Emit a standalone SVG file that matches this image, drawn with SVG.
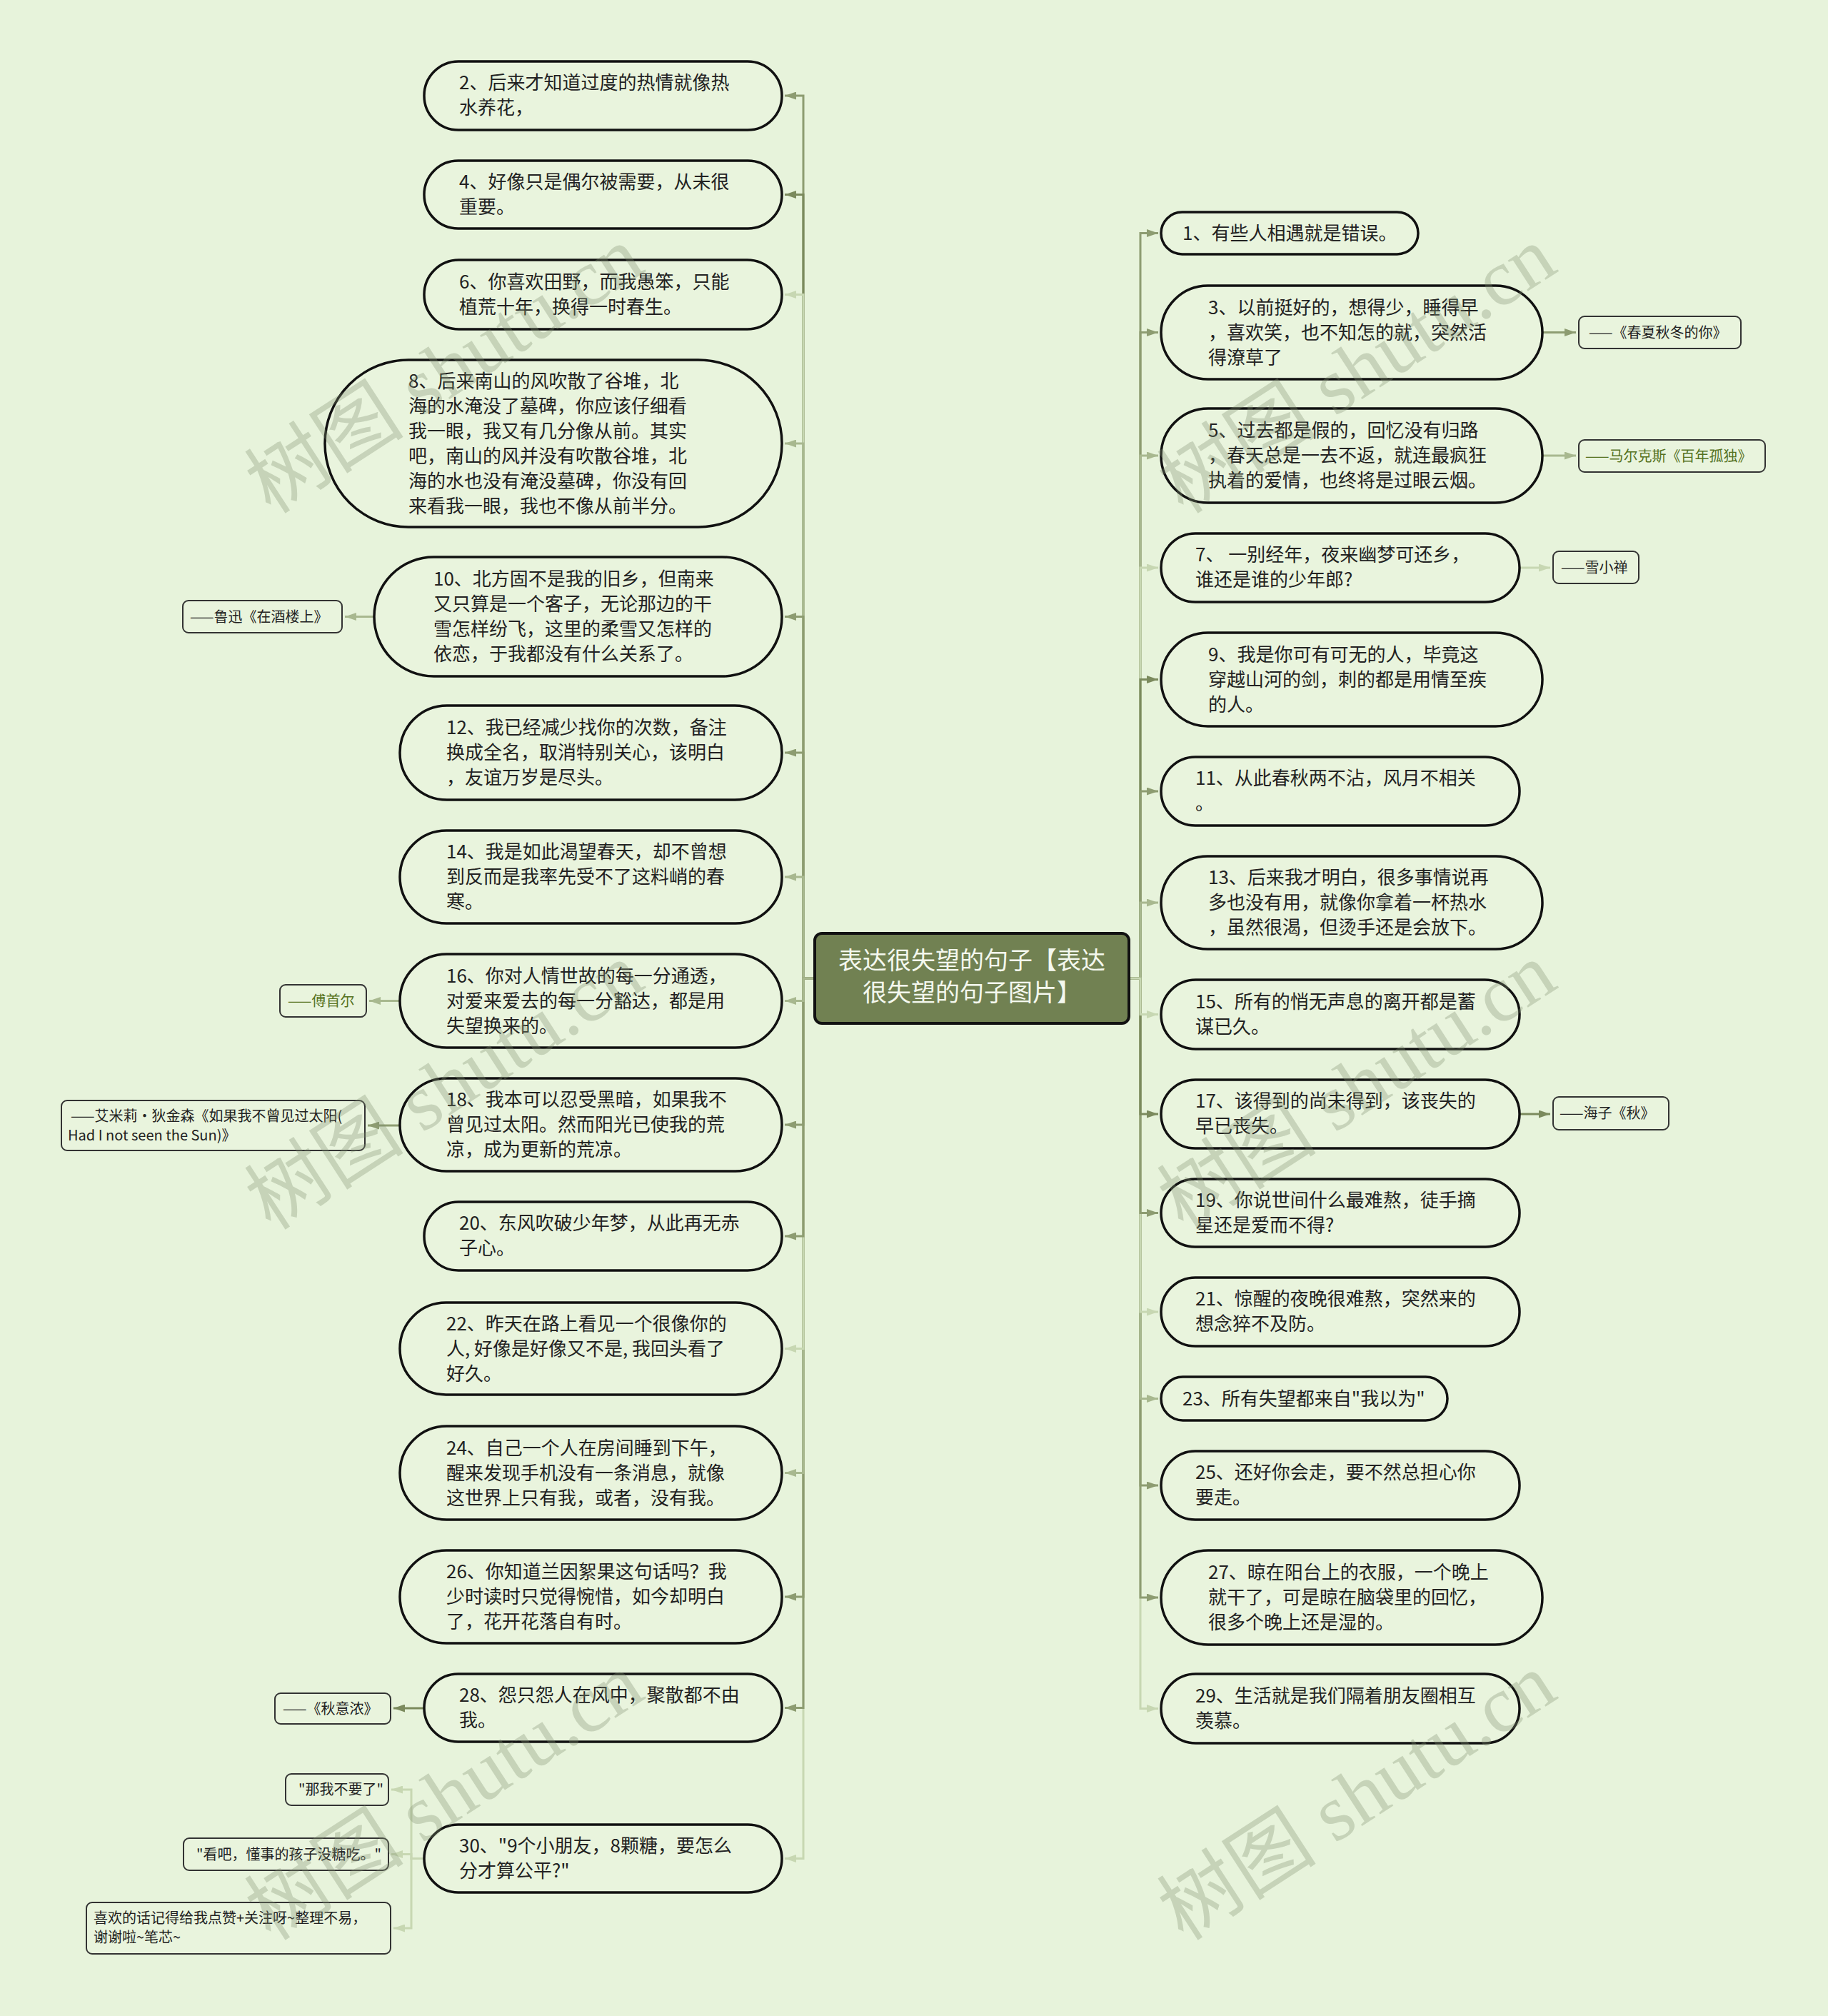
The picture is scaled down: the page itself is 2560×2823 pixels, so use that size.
<svg xmlns="http://www.w3.org/2000/svg" width="2560" height="2823" viewBox="0 0 2560 2823">
<style>
.bg{fill:#e7f3db}
.node{fill:#e9f4dd;stroke:#111;stroke-width:3.5}
.ann{fill:#e9f4dd;stroke:#333;stroke-width:2}
.root{fill:#718152;stroke:#111;stroke-width:4}
.t{font-family:"Noto Sans CJK SC","Noto Sans",sans-serif;font-size:26px;fill:#222}
.a{font-family:"Noto Sans CJK SC","Noto Sans",sans-serif;font-size:20px;fill:#222}
.ag{fill:#55721f}
.rt{font-family:"Noto Sans CJK SC","Noto Sans",sans-serif;font-size:34px;fill:#f4f8ee;text-anchor:middle}
.e{fill:none;stroke-width:3}
.dk{stroke:#7b8a5d}.md{stroke:#8d9c71}.lm{stroke:#a8b88f}.lt{stroke:#c7d7b2}
.wm{font-family:"Liberation Serif","Noto Sans CJK SC",serif;font-size:112px;fill:#7f8f70;fill-opacity:0.32}
</style>
<defs>
<marker id="adk" viewBox="0 0 16 11" refX="16" refY="5.5" markerWidth="16" markerHeight="11" markerUnits="userSpaceOnUse" orient="auto"><path d="M0,0 L16,5.5 L0,11 z" fill="#7b8a5d"/></marker>
<marker id="amd" viewBox="0 0 16 11" refX="16" refY="5.5" markerWidth="16" markerHeight="11" markerUnits="userSpaceOnUse" orient="auto"><path d="M0,0 L16,5.5 L0,11 z" fill="#8d9c71"/></marker>
<marker id="alm" viewBox="0 0 16 11" refX="16" refY="5.5" markerWidth="16" markerHeight="11" markerUnits="userSpaceOnUse" orient="auto"><path d="M0,0 L16,5.5 L0,11 z" fill="#a8b88f"/></marker>
<marker id="alt" viewBox="0 0 16 11" refX="16" refY="5.5" markerWidth="16" markerHeight="11" markerUnits="userSpaceOnUse" orient="auto"><path d="M0,0 L16,5.5 L0,11 z" fill="#c7d7b2"/></marker>
</defs>
<rect class="bg" x="0" y="0" width="2560" height="2823"/>

<g id="connectors">
<!-- left, above root -->
<path class="e md" marker-end="url(#amd)" d="M1141,1370 H1125 V134 H1099"/>
<path class="e dk" marker-end="url(#adk)" d="M1141,1370 H1125 V272.5 H1099"/>
<path class="e lt" marker-end="url(#alt)" d="M1141,1370 H1125 V412.5 H1099"/>
<path class="e lm" marker-end="url(#alm)" d="M1141,1370 H1125 V621 H1099"/>
<path class="e md" marker-end="url(#amd)" d="M1141,1370 H1125 V863.5 H1099"/>
<path class="e md" marker-end="url(#amd)" d="M1141,1370 H1125 V1054 H1099"/>
<path class="e lm" marker-end="url(#alm)" d="M1141,1370 H1125 V1228 H1099"/>
<!-- left, below root -->
<path class="e lt" marker-end="url(#alt)" d="M1141,1370 H1125 V2602.5 H1099"/>
<path class="e md" marker-end="url(#amd)" d="M1141,1370 H1125 V2391.5 H1099"/>
<path class="e md" marker-end="url(#amd)" d="M1141,1370 H1125 V2236 H1099"/>
<path class="e lm" marker-end="url(#alm)" d="M1141,1370 H1125 V2062.5 H1099"/>
<path class="e lt" marker-end="url(#alt)" d="M1141,1370 H1125 V1888.5 H1099"/>
<path class="e md" marker-end="url(#amd)" d="M1141,1370 H1125 V1731 H1099"/>
<path class="e md" marker-end="url(#amd)" d="M1141,1370 H1125 V1575 H1099"/>
<path class="e lm" marker-end="url(#alm)" d="M1141,1370 H1125 V1401.5 H1099"/>
<!-- right, above root -->
<path class="e md" marker-end="url(#amd)" d="M1581,1370 H1597 V326.5 H1622"/>
<path class="e md" marker-end="url(#amd)" d="M1581,1370 H1597 V465.5 H1622"/>
<path class="e lm" marker-end="url(#alm)" d="M1581,1370 H1597 V638 H1622"/>
<path class="e lt" marker-end="url(#alt)" d="M1581,1370 H1597 V795 H1622"/>
<path class="e dk" marker-end="url(#adk)" d="M1581,1370 H1597 V951.5 H1622"/>
<path class="e md" marker-end="url(#amd)" d="M1581,1370 H1597 V1108 H1622"/>
<path class="e lm" marker-end="url(#alm)" d="M1581,1370 H1597 V1264 H1622"/>
<!-- right, below root -->
<path class="e lt" marker-end="url(#alt)" d="M1581,1370 H1597 V2392.5 H1622"/>
<path class="e md" marker-end="url(#amd)" d="M1581,1370 H1597 V2237 H1622"/>
<path class="e md" marker-end="url(#amd)" d="M1581,1370 H1597 V2080 H1622"/>
<path class="e lm" marker-end="url(#alm)" d="M1581,1370 H1597 V1958.5 H1622"/>
<path class="e lt" marker-end="url(#alt)" d="M1581,1370 H1597 V1837 H1622"/>
<path class="e md" marker-end="url(#amd)" d="M1581,1370 H1597 V1698.5 H1622"/>
<path class="e dk" marker-end="url(#adk)" d="M1581,1370 H1597 V1560 H1622"/>
<path class="e lt" marker-end="url(#alt)" d="M1581,1370 H1597 V1420.5 H1622"/>
<!-- annotations -->
<path class="e lm" marker-end="url(#alm)" d="M524,863.5 H483"/>
<path class="e lm" marker-end="url(#alm)" d="M560,1401.5 H517"/>
<path class="e md" marker-end="url(#amd)" d="M560,1576 H515"/>
<path class="e dk" marker-end="url(#adk)" d="M594,2392 H551"/>
<path class="e lt" marker-end="url(#alt)" d="M594,2602.5 H576 V2506 H548"/>
<path class="e lt" marker-end="url(#alt)" d="M594,2602.5 H576 V2596.5 H548"/>
<path class="e lt" marker-end="url(#alt)" d="M594,2602.5 H576 V2700 H551"/>
<path class="e md" marker-end="url(#amd)" d="M2160,465.5 H2207"/>
<path class="e lm" marker-end="url(#alm)" d="M2160,638 H2207"/>
<path class="e lt" marker-end="url(#alt)" d="M2128,795 H2171"/>
<path class="e dk" marker-end="url(#adk)" d="M2128,1560 H2171"/>
</g>

<g id="root">
<rect class="root" x="1141" y="1307" width="440" height="126" rx="10"/>
<text class="rt" x="1361" y="1357">表达很失望的句子【表达</text>
<text class="rt" x="1361" y="1402">很失望的句子图片】</text>
</g>

<!-- left nodes -->
<g id="n2"><rect class="node" x="594" y="86" width="501" height="96" rx="48"/>
<text class="t" x="643"><tspan x="643" y="125">2、后来才知道过度的热情就像热</tspan><tspan x="643" y="160">水养花，</tspan></text></g>
<g id="n4"><rect class="node" x="594" y="225" width="501" height="95" rx="47.5"/>
<text class="t"><tspan x="643" y="264">4、好像只是偶尔被需要，从未很</tspan><tspan x="643" y="299">重要。</tspan></text></g>
<g id="n6"><rect class="node" x="594" y="364" width="501" height="97" rx="48.5"/>
<text class="t"><tspan x="643" y="404">6、你喜欢田野，而我愚笨，只能</tspan><tspan x="643" y="439">植荒十年，换得一时春生。</tspan></text></g>
<g id="n8"><rect class="node" x="455" y="504" width="640" height="234" rx="117"/>
<text class="t"><tspan x="572" y="543">8、后来南山的风吹散了谷堆，北</tspan><tspan x="572" y="578">海的水淹没了墓碑，你应该仔细看</tspan><tspan x="572" y="613">我一眼，我又有几分像从前。其实</tspan><tspan x="572" y="648">吧，南山的风并没有吹散谷堆，北</tspan><tspan x="572" y="683">海的水也没有淹没墓碑，你没有回</tspan><tspan x="572" y="718">来看我一眼，我也不像从前半分。</tspan></text></g>
<g id="n10"><rect class="node" x="524" y="780" width="571" height="167" rx="83.5"/>
<text class="t"><tspan x="607" y="820">10、北方固不是我的旧乡，但南来</tspan><tspan x="607" y="855">又只算是一个客子，无论那边的干</tspan><tspan x="607" y="890">雪怎样纷飞，这里的柔雪又怎样的</tspan><tspan x="607" y="925">依恋，于我都没有什么关系了。</tspan></text></g>
<g id="n12"><rect class="node" x="560" y="988" width="535" height="132" rx="66"/>
<text class="t"><tspan x="625" y="1028">12、我已经减少找你的次数，备注</tspan><tspan x="625" y="1063">换成全名，取消特别关心，该明白</tspan><tspan x="625" y="1098">，友谊万岁是尽头。</tspan></text></g>
<g id="n14"><rect class="node" x="560" y="1163" width="535" height="130" rx="65"/>
<text class="t"><tspan x="625" y="1202">14、我是如此渴望春天，却不曾想</tspan><tspan x="625" y="1237">到反而是我率先受不了这料峭的春</tspan><tspan x="625" y="1272">寒。</tspan></text></g>
<g id="n16"><rect class="node" x="560" y="1336" width="535" height="131" rx="65.5"/>
<text class="t"><tspan x="625" y="1376">16、你对人情世故的每一分通透，</tspan><tspan x="625" y="1411">对爱来爱去的每一分豁达，都是用</tspan><tspan x="625" y="1446">失望换来的。</tspan></text></g>
<g id="n18"><rect class="node" x="560" y="1510" width="535" height="130" rx="65"/>
<text class="t"><tspan x="625" y="1549">18、我本可以忍受黑暗，如果我不</tspan><tspan x="625" y="1584">曾见过太阳。然而阳光已使我的荒</tspan><tspan x="625" y="1619">凉，成为更新的荒凉。</tspan></text></g>
<g id="n20"><rect class="node" x="594" y="1683" width="501" height="96" rx="48"/>
<text class="t"><tspan x="643" y="1722">20、东风吹破少年梦，从此再无赤</tspan><tspan x="643" y="1757">子心。</tspan></text></g>
<g id="n22"><rect class="node" x="560" y="1824" width="535" height="129" rx="64.5"/>
<text class="t"><tspan x="625" y="1863">22、昨天在路上看见一个很像你的</tspan><tspan x="625" y="1898">人, 好像是好像又不是, 我回头看了</tspan><tspan x="625" y="1933">好久。</tspan></text></g>
<g id="n24"><rect class="node" x="560" y="1997" width="535" height="131" rx="65.5"/>
<text class="t"><tspan x="625" y="2037">24、自己一个人在房间睡到下午，</tspan><tspan x="625" y="2072">醒来发现手机没有一条消息，就像</tspan><tspan x="625" y="2107">这世界上只有我，或者，没有我。</tspan></text></g>
<g id="n26"><rect class="node" x="560" y="2171" width="535" height="130" rx="65"/>
<text class="t"><tspan x="625" y="2210">26、你知道兰因絮果这句话吗？我</tspan><tspan x="625" y="2245">少时读时只觉得惋惜，如今却明白</tspan><tspan x="625" y="2280">了，花开花落自有时。</tspan></text></g>
<g id="n28"><rect class="node" x="594" y="2344" width="501" height="95" rx="47.5"/>
<text class="t"><tspan x="643" y="2383">28、怨只怨人在风中，聚散都不由</tspan><tspan x="643" y="2418">我。</tspan></text></g>
<g id="n30"><rect class="node" x="594" y="2555" width="501" height="95" rx="47.5"/>
<text class="t"><tspan x="643" y="2594">30、"9个小朋友，8颗糖，要怎么</tspan><tspan x="643" y="2629">分才算公平?"</tspan></text></g>

<!-- right nodes -->
<g id="r1"><rect class="node" x="1626" y="297" width="360" height="59" rx="29.5"/>
<text class="t" x="1656" y="336">1、有些人相遇就是错误。</text></g>
<g id="r3"><rect class="node" x="1626" y="400" width="534" height="131" rx="65.5"/>
<text class="t"><tspan x="1692" y="440">3、以前挺好的，想得少，睡得早</tspan><tspan x="1692" y="475">，喜欢笑，也不知怎的就，突然活</tspan><tspan x="1692" y="510">得潦草了</tspan></text></g>
<g id="r5"><rect class="node" x="1626" y="572" width="534" height="132" rx="66"/>
<text class="t"><tspan x="1692" y="612">5、过去都是假的，回忆没有归路</tspan><tspan x="1692" y="647">，春天总是一去不返，就连最疯狂</tspan><tspan x="1692" y="682">执着的爱情，也终将是过眼云烟。</tspan></text></g>
<g id="r7"><rect class="node" x="1626" y="747" width="502" height="96" rx="48"/>
<text class="t"><tspan x="1674" y="786">7、 一别经年，夜来幽梦可还乡，</tspan><tspan x="1674" y="821">谁还是谁的少年郎?</tspan></text></g>
<g id="r9"><rect class="node" x="1626" y="886" width="534" height="131" rx="65.5"/>
<text class="t"><tspan x="1692" y="926">9、我是你可有可无的人，毕竟这</tspan><tspan x="1692" y="961">穿越山河的剑，刺的都是用情至疾</tspan><tspan x="1692" y="996">的人。</tspan></text></g>
<g id="r11"><rect class="node" x="1626" y="1060" width="502" height="96" rx="48"/>
<text class="t"><tspan x="1674" y="1099">11、从此春秋两不沾，风月不相关</tspan><tspan x="1674" y="1134">。</tspan></text></g>
<g id="r13"><rect class="node" x="1626" y="1199" width="534" height="130" rx="65"/>
<text class="t"><tspan x="1692" y="1238">13、后来我才明白，很多事情说再</tspan><tspan x="1692" y="1273">多也没有用，就像你拿着一杯热水</tspan><tspan x="1692" y="1308">，虽然很渴，但烫手还是会放下。</tspan></text></g>
<g id="r15"><rect class="node" x="1626" y="1372" width="502" height="97" rx="48.5"/>
<text class="t"><tspan x="1674" y="1412">15、所有的悄无声息的离开都是蓄</tspan><tspan x="1674" y="1447">谋已久。</tspan></text></g>
<g id="r17"><rect class="node" x="1626" y="1512" width="502" height="96" rx="48"/>
<text class="t"><tspan x="1674" y="1551">17、该得到的尚未得到，该丧失的</tspan><tspan x="1674" y="1586">早已丧失。</tspan></text></g>
<g id="r19"><rect class="node" x="1626" y="1651" width="502" height="95" rx="47.5"/>
<text class="t"><tspan x="1674" y="1690">19、你说世间什么最难熬，徒手摘</tspan><tspan x="1674" y="1725">星还是爱而不得?</tspan></text></g>
<g id="r21"><rect class="node" x="1626" y="1789" width="502" height="96" rx="48"/>
<text class="t"><tspan x="1674" y="1828">21、惊醒的夜晚很难熬，突然来的</tspan><tspan x="1674" y="1863">想念猝不及防。</tspan></text></g>
<g id="r23"><rect class="node" x="1626" y="1928" width="401" height="61" rx="30.5"/>
<text class="t" x="1656" y="1968">23、所有失望都来自"我以为"</text></g>
<g id="r25"><rect class="node" x="1626" y="2032" width="502" height="96" rx="48"/>
<text class="t"><tspan x="1674" y="2071">25、还好你会走，要不然总担心你</tspan><tspan x="1674" y="2106">要走。</tspan></text></g>
<g id="r27"><rect class="node" x="1626" y="2171" width="534" height="132" rx="66"/>
<text class="t"><tspan x="1692" y="2211">27、晾在阳台上的衣服，一个晚上</tspan><tspan x="1692" y="2246">就干了，可是晾在脑袋里的回忆，</tspan><tspan x="1692" y="2281">很多个晚上还是湿的。</tspan></text></g>
<g id="r29"><rect class="node" x="1626" y="2344" width="502" height="97" rx="48.5"/>
<text class="t"><tspan x="1674" y="2384">29、生活就是我们隔着朋友圈相互</tspan><tspan x="1674" y="2419">羡慕。</tspan></text></g>

<!-- annotation boxes -->
<g id="a-luxun"><rect class="ann" x="256" y="841" width="223" height="45" rx="8"/>
<text class="a" x="266" y="871">——鲁迅《在酒楼上》</text></g>
<g id="a-fu"><rect class="ann" x="392" y="1379" width="121" height="45" rx="8"/>
<text class="a ag" x="403" y="1409">——傅首尔</text></g>
<g id="a-dick"><rect class="ann" x="86" y="1541" width="425" height="70" rx="8"/>
<text class="a"><tspan x="99" y="1570">——艾米莉·狄金森《如果我不曾见过太阳(</tspan><tspan x="95" y="1597">Had I not seen the Sun)》</tspan></text></g>
<g id="a-qiu"><rect class="ann" x="385" y="2371" width="162" height="43" rx="8"/>
<text class="a" x="396" y="2400">——《秋意浓》</text></g>
<g id="a-nawo"><rect class="ann" x="400" y="2484" width="144" height="44" rx="8"/>
<text class="a" x="418" y="2513">"那我不要了"</text></g>
<g id="a-kanba"><rect class="ann" x="257" y="2574" width="287" height="45" rx="8"/>
<text class="a" x="275" y="2604">"看吧，懂事的孩子没糖吃。"</text></g>
<g id="a-xihuan"><rect class="ann" x="121" y="2664" width="426" height="72" rx="8"/>
<text class="a"><tspan x="131" y="2693">喜欢的话记得给我点赞+关注呀~整理不易，</tspan><tspan x="131" y="2720">谢谢啦~笔芯~</tspan></text></g>
<g id="a-chunxia"><rect class="ann" x="2211" y="443" width="227" height="45" rx="8"/>
<text class="a" x="2225" y="473">——《春夏秋冬的你》</text></g>
<g id="a-makes"><rect class="ann" x="2211" y="616" width="261" height="45" rx="8"/>
<text class="a ag" x="2220" y="646">——马尔克斯《百年孤独》</text></g>
<g id="a-xue"><rect class="ann" x="2175" y="772" width="120" height="45" rx="8"/>
<text class="a" x="2186" y="802">——雪小禅</text></g>
<g id="a-haizi"><rect class="ann" x="2175" y="1536" width="162" height="46" rx="8"/>
<text class="a" x="2184" y="1566">——海子《秋》</text></g>

<g id="watermarks">
<text class="wm" text-anchor="middle" transform="translate(643,550) rotate(-33)">树图 shutu.cn</text>
<text class="wm" text-anchor="middle" transform="translate(1921,550) rotate(-33)">树图 shutu.cn</text>
<text class="wm" text-anchor="middle" transform="translate(643,1553) rotate(-33)">树图 shutu.cn</text>
<text class="wm" text-anchor="middle" transform="translate(1921,1553) rotate(-33)">树图 shutu.cn</text>
<text class="wm" text-anchor="middle" transform="translate(643,2548) rotate(-33)">树图 shutu.cn</text>
<text class="wm" text-anchor="middle" transform="translate(1921,2548) rotate(-33)">树图 shutu.cn</text>
</g>
</svg>
